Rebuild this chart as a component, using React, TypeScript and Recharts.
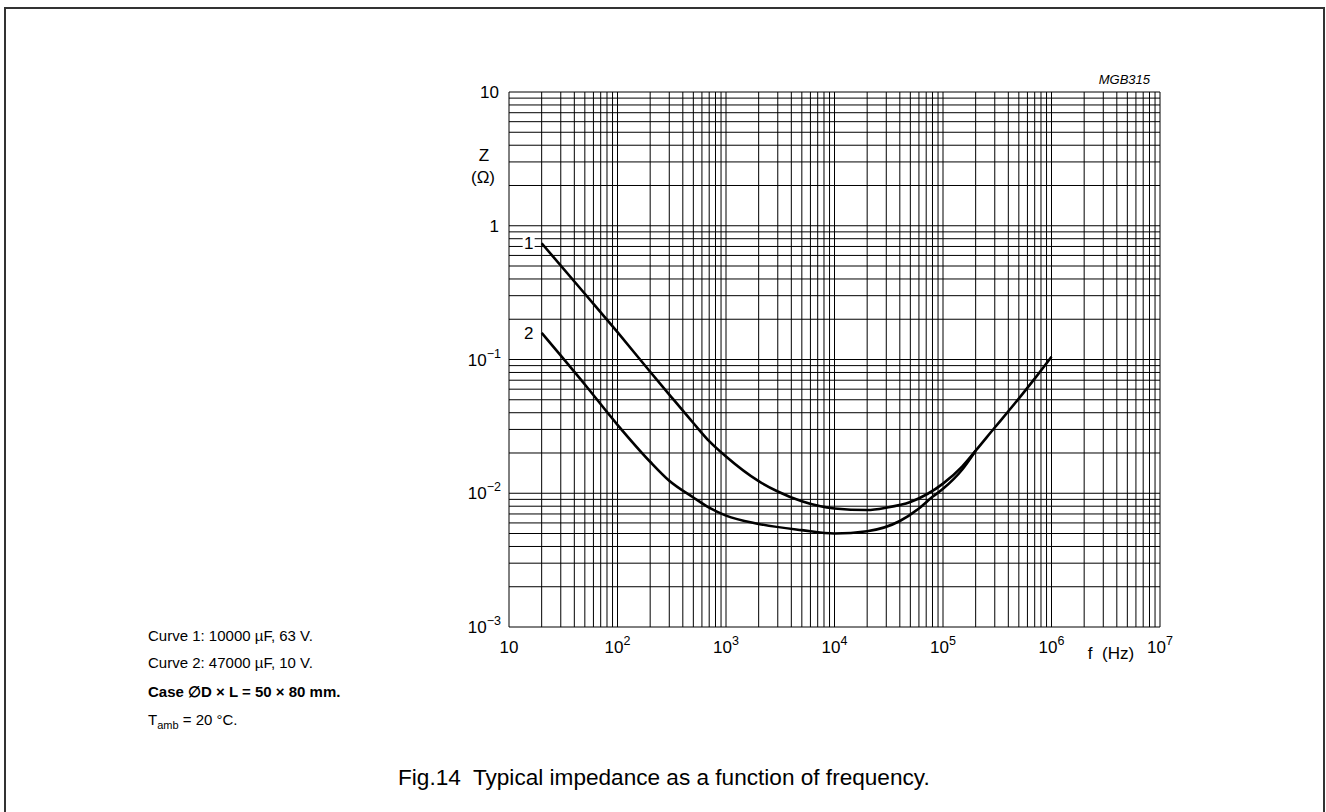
import React from 'react';
import { LineChart, Line, XAxis, YAxis, ReferenceLine } from 'recharts';

// curve 1: 10000 uF, 63 V
const curve1Freq = [20, 50, 100, 200, 300, 500, 700, 1000, 2000, 3000, 5000, 10000, 20000, 30000, 50000, 100000, 150000, 200000, 300000, 400000, 700000, 1000000];
const curve1Z = [0.74, 0.31, 0.16, 0.081, 0.0547, 0.0335, 0.0245, 0.0188, 0.0123, 0.0103, 0.0087, 0.0077, 0.0075, 0.0078, 0.0086, 0.0118, 0.0158, 0.0208, 0.031, 0.041, 0.072, 0.105];

// curve 2: 47000 uF, 10 V
const curve2Freq = [20, 50, 100, 200, 300, 500, 700, 1000, 2000, 5000, 10000, 20000, 40000, 60000, 80000, 100000, 150000, 200000];
const curve2Z = [0.158, 0.065, 0.0325, 0.0172, 0.0124, 0.0093, 0.0078, 0.0068, 0.0059, 0.0053, 0.005, 0.0052, 0.0062, 0.0077, 0.0094, 0.0108, 0.015, 0.0208];

const xTicks = [10, 100, 1000, 10000, 100000, 1000000, 10000000];
const yTicks = [0.001, 0.01, 0.1, 1, 10];
const gridSteps = [1, 2, 3, 4, 5, 6, 7, 8, 9];
const xDecades = [10, 100, 1000, 10000, 100000, 1000000];
const yDecades = [0.001, 0.01, 0.1, 1];

const xGrid = [...xDecades.flatMap(d => gridSteps.map(s => d * s)), 10000000];
const yGrid = [...yDecades.flatMap(d => gridSteps.map(s => d * s)), 10];

const series1 = curve1Freq.map((f, i) => ({ f, z: curve1Z[i] }));
const series2 = curve2Freq.map((f, i) => ({ f, z: curve2Z[i] }));

const FONT = '"Liberation Sans", Arial, Helvetica, sans-serif';

const XTick = (props: any) => {
    const { x, y, payload } = props;
    const e = Math.round(Math.log10(payload.value));
    return (
        <text x={x} y={y + 26} textAnchor="middle" fontSize={17} fill="#000">
            10
            {e > 1 && <tspan dy={-8} fontSize={12.5}>{e}</tspan>}
        </text>
    );
};

const YTick = (props: any) => {
    const { x, y, payload } = props;
    const e = Math.round(Math.log10(payload.value));
    if (e >= 0) {
        return (
            <text x={x - 10} y={y + 6} textAnchor="end" fontSize={17} fill="#000">
                {e === 0 ? '1' : '10'}
            </text>
        );
    }
    return (
        <text x={x - 8} y={y + 6} textAnchor="end" fontSize={17} fill="#000">
            10
            <tspan dy={-8} fontSize={12.5}>{'\u2212' + Math.abs(e)}</tspan>
        </text>
    );
};

const curveTag = (tag: string) => (p: any) => {
    if (p.index !== 0) return <g key={`d-${tag}-${p.index}`} />;
    return (
        <g key={`d-${tag}-0`}>
            <rect x={p.cx - 19} y={p.cy - 8} width={12} height={16} fill="#fff" />
            <text x={p.cx - 13} y={p.cy + 6} textAnchor="middle" fontSize={17} fill="#000">{tag}</text>
        </g>
    );
};

export default function App() {
    return (
        <div style={{ position: 'absolute', left: 0, top: 0, width: 1326, height: 812, overflow: 'hidden', background: '#fff', fontFamily: FONT, color: '#000' }}>
            <div style={{ position: 'absolute', left: 4, top: 7, width: 1321, height: 900, border: '2px solid #333', boxSizing: 'border-box' }} />

            <div style={{ position: 'absolute', left: 0, top: 0 }}>
                <LineChart width={1326} height={812} margin={{ top: 92, right: 166, bottom: 145, left: 449 }}>
                    <XAxis
                        dataKey="f"
                        type="number"
                        scale="log"
                        domain={[10, 10000000]}
                        ticks={xTicks}
                        tick={<XTick />}
                        tickSize={0}
                        tickMargin={0}
                        axisLine={false}
                        tickLine={false}
                        height={40}
                        allowDataOverflow
                        label={{
                            content: (p: any) => {
                                const vb = p.viewBox;
                                return (
                                    <text x={vb.x + vb.width - 49} y={vb.y + 32} textAnchor="middle" fontSize={17} fill="#000" style={{ whiteSpace: 'pre' }}>
                                        {'f  (Hz)'}
                                    </text>
                                );
                            }
                        }}
                    />
                    <YAxis
                        dataKey="z"
                        type="number"
                        scale="log"
                        domain={[0.001, 10]}
                        ticks={yTicks}
                        tick={<YTick />}
                        tickSize={0}
                        tickMargin={0}
                        axisLine={false}
                        tickLine={false}
                        width={60}
                        allowDataOverflow
                        label={{
                            content: (p: any) => {
                                const vb = p.viewBox;
                                return (
                                    <g>
                                        <text x={vb.x + 35} y={vb.y + 69} textAnchor="middle" fontSize={17} fill="#000">Z</text>
                                        <text x={vb.x + 34} y={vb.y + 91} textAnchor="middle" fontSize={17} fill="#000">(Ω)</text>
                                    </g>
                                );
                            }
                        }}
                    />
                    {xGrid.map(v => (
                        <ReferenceLine key={`vx-${v}`} x={v} stroke="#000" strokeWidth={1} />
                    ))}
                    {yGrid.map(v => (
                        <ReferenceLine key={`hy-${v}`} y={v} stroke="#000" strokeWidth={1} />
                    ))}
                    <Line data={series1} dataKey="z" type="monotone" stroke="#000" strokeWidth={2.6} dot={curveTag('1')} activeDot={false} isAnimationActive={false} />
                    <Line data={series2} dataKey="z" type="monotone" stroke="#000" strokeWidth={2.6} dot={curveTag('2')} activeDot={false} isAnimationActive={false} />
                </LineChart>
            </div>

            <div style={{ position: 'absolute', right: 1326 - 1150, top: 72, fontSize: 13, fontStyle: 'italic' }}>MGB315</div>

            <div style={{ position: 'absolute', left: 148, top: 627, fontSize: 15, lineHeight: '18px', whiteSpace: 'nowrap' }}>Curve 1: 10000 µF, 63 V.</div>
            <div style={{ position: 'absolute', left: 148, top: 654, fontSize: 15, lineHeight: '18px', whiteSpace: 'nowrap' }}>Curve 2: 47000 µF, 10 V.</div>
            <div style={{ position: 'absolute', left: 148, top: 683, fontSize: 15, lineHeight: '18px', whiteSpace: 'nowrap', fontWeight: 'bold' }}>Case ∅D × L = 50 × 80 mm.</div>
            <div style={{ position: 'absolute', left: 148, top: 711, fontSize: 15, lineHeight: '18px', whiteSpace: 'nowrap' }}>
                T<sub style={{ fontSize: 11 }}>amb</sub> = 20 °C.
            </div>

            <div style={{ position: 'absolute', left: 398, top: 765, fontSize: 22.6, lineHeight: '26px', whiteSpace: 'pre' }}>Fig.14  Typical impedance as a function of frequency.</div>
        </div>
    );
}
